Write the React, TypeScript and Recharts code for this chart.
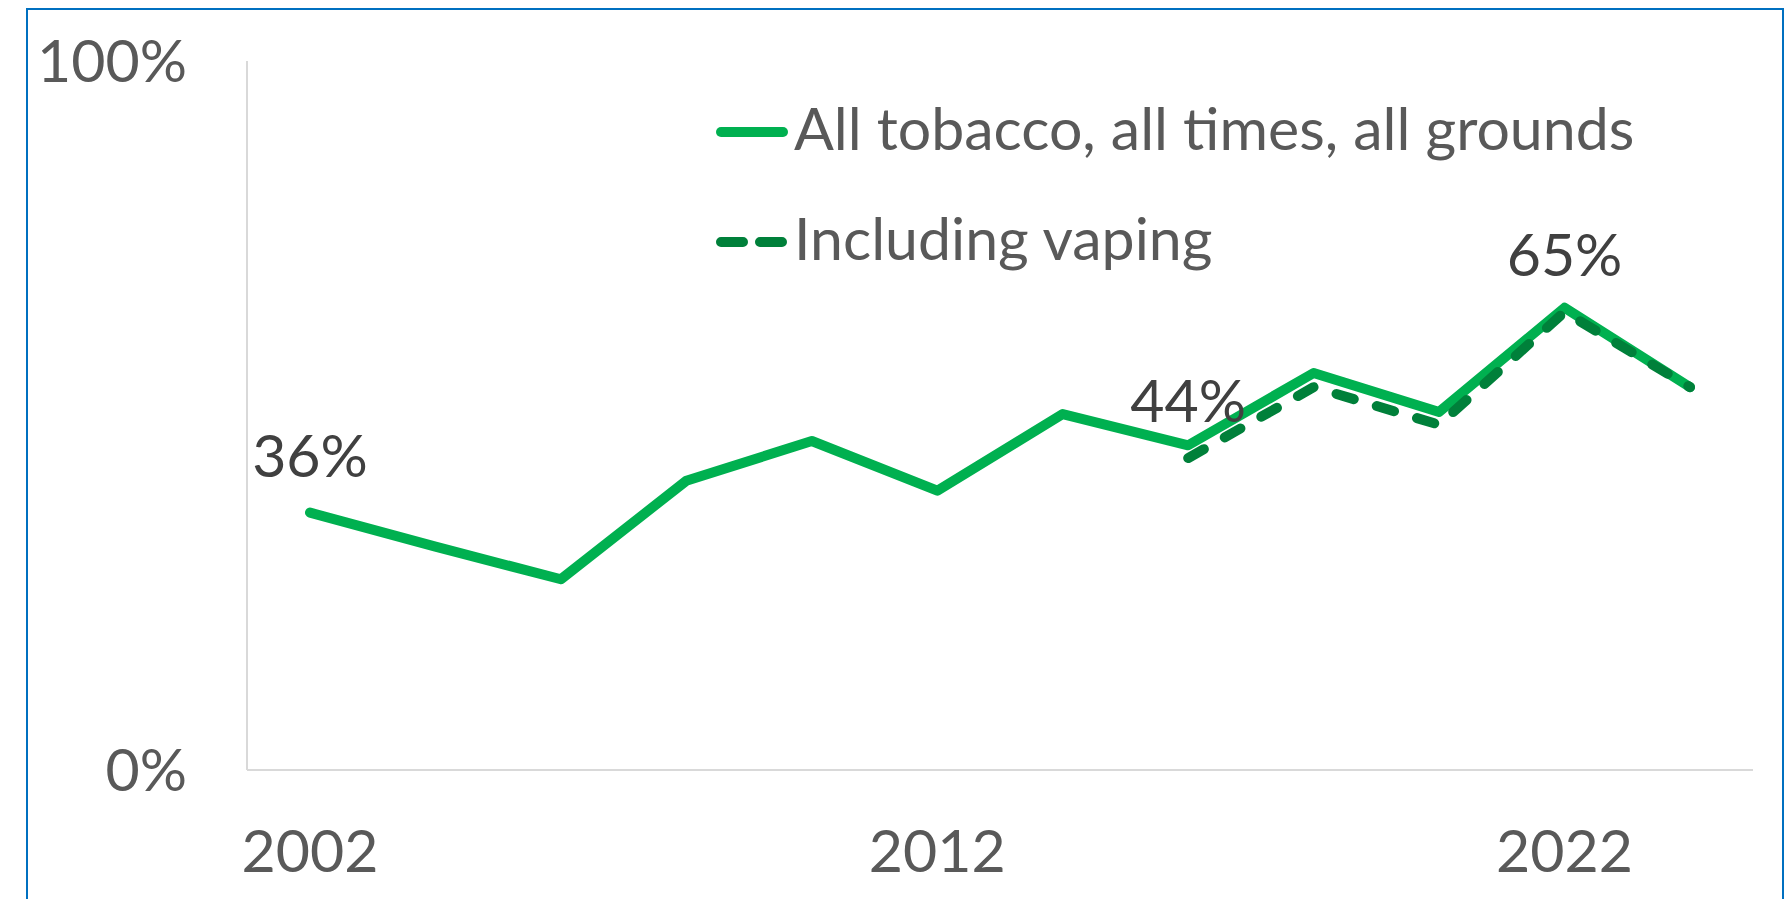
import { LineChart, Line, XAxis, YAxis, Legend, LabelList } from 'recharts'

const years = ['2002', '2004', '2006', '2008', '2010', '2012', '2014', '2016', '2018', '2020', '2022', '2024']
const allTobacco = [36.3, 31.5, 26.9, 40.8, 46.4, 39.4, 50.2, 45.8, 56.0, 50.5, 65.2, 54.0]
const inclVaping = [null, null, null, null, null, null, null, 44.0, 54.0, 48.7, 64.6, 54.0]
const xTicks = ['2002', '2012', '2022']
const yTicks = [0, 100]
const solidLabelYears = ['2002']
const dashedLabelYears = ['2016', '2022']

const SOLID = '#00B050'
const DARK = '#00803A'
const FONT = 'Lato, "Open Sans", sans-serif'

const data = years.map((year, i) => ({
  year,
  all: allTobacco[i],
  vaping: inclVaping[i],
}))

function makeLabel(labelYears: string[]) {
  return (props: any) => {
    const { x, y, value, index } = props
    if (value == null || !labelYears.includes(years[index])) return null
    return (
      <text
        x={x}
        y={y - 36}
        textAnchor="middle"
        fill="#404040"
        fontSize={59}
        fontFamily={FONT}
      >
        {Math.round(value)}%
      </text>
    )
  }
}

function LegendBox() {
  return (
    <svg width={1000} height={240} style={{ overflow: 'visible' }}>
      <line x1={21} y1={52} x2={83} y2={52} stroke={SOLID} strokeWidth={10} strokeLinecap="round" />
      <text x={94} y={70} fill="#595959" fontSize={59} fontFamily={FONT}>
        All tobacco, all times, all grounds
      </text>
      <line
        x1={21}
        y1={162}
        x2={83}
        y2={162}
        stroke={DARK}
        strokeWidth={10}
        strokeLinecap="round"
        strokeDasharray="22 17"
      />
      <text x={94} y={180} fill="#595959" fontSize={59} fontFamily={FONT}>
        Including vaping
      </text>
    </svg>
  )
}

export default function App() {
  return (
    <div style={{ position: 'relative', width: 1784, height: 899, overflow: 'hidden', background: '#fff' }}>
      <style>{'html,body{margin:0;overflow:hidden;background:#fff}'}</style>
      <div
        style={{
          position: 'absolute',
          left: 26,
          top: 8,
          width: 1758,
          height: 1000,
          border: '2px solid #0070C0',
          boxSizing: 'border-box',
        }}
      />
      <div style={{ position: 'absolute', left: 0, top: 0 }}>
        <LineChart width={1784} height={899} data={data} margin={{ top: 61, right: 31, left: 0, bottom: 0 }}>
          <XAxis
            dataKey="year"
            ticks={xTicks}
            interval={0}
            height={129}
            padding={{ left: 63, right: 63 }}
            axisLine={{ stroke: '#d9d9d9', strokeWidth: 2 }}
            tickLine={false}
            tickSize={0}
            tickMargin={60}
            tick={{ fill: '#595959', fontSize: 59, fontFamily: FONT }}
          />
          <YAxis
            domain={[0, 100]}
            ticks={yTicks}
            width={247}
            axisLine={{ stroke: '#d9d9d9', strokeWidth: 2 }}
            tickLine={false}
            tickSize={0}
            tickMargin={60}
            tickFormatter={(v: number) => `${v}%`}
            tick={{ fill: '#595959', fontSize: 59, fontFamily: FONT }}
          />
          <Legend
            layout="vertical"
            align="center"
            verticalAlign="middle"
            wrapperStyle={{ left: 700, top: 80, width: 1000, height: 240 }}
            content={() => <LegendBox />}
          />
          <Line
            dataKey="all"
            name="All tobacco, all times, all grounds"
            stroke={SOLID}
            strokeWidth={10}
            strokeLinecap="round"
            strokeLinejoin="round"
            dot={false}
            activeDot={false}
            isAnimationActive={false}
          >
            <LabelList dataKey="all" content={makeLabel(solidLabelYears)} />
          </Line>
          <Line
            dataKey="vaping"
            name="Including vaping"
            stroke={DARK}
            strokeWidth={10}
            strokeLinecap="round"
            strokeLinejoin="round"
            strokeDasharray="18 24"
            dot={false}
            activeDot={false}
            isAnimationActive={false}
          >
            <LabelList dataKey="vaping" content={makeLabel(dashedLabelYears)} />
          </Line>
        </LineChart>
      </div>
    </div>
  )
}
